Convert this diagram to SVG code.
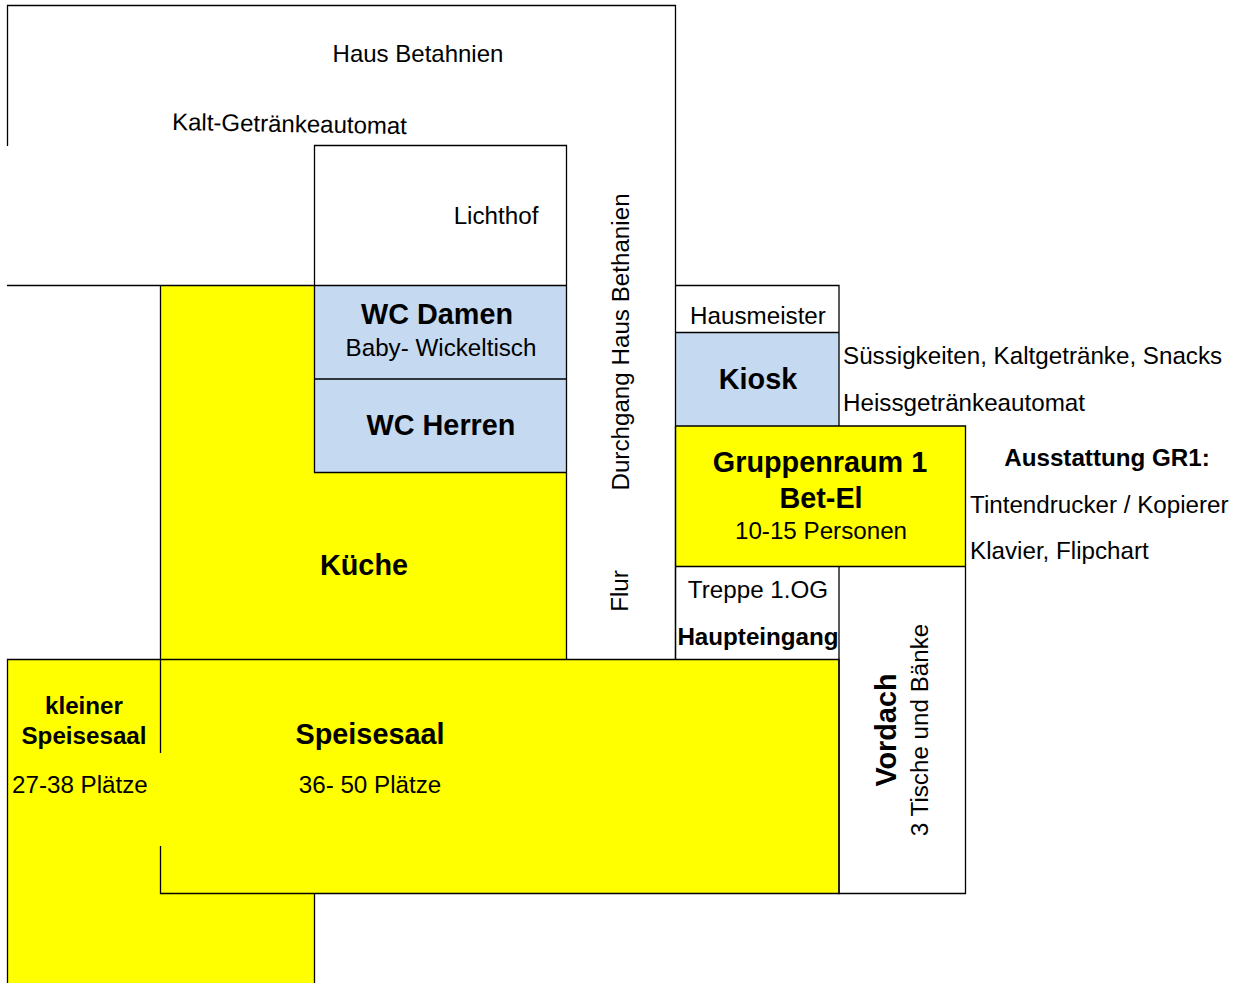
<svg xmlns="http://www.w3.org/2000/svg" width="1239" height="983" viewBox="0 0 1239 983">
<style>
text{font-family:"Liberation Sans",Arial,sans-serif;fill:#000;font-size:24.2px}
.b{font-weight:bold}
.h{font-weight:bold;font-size:28.8px}
.c{text-anchor:middle}
.l{fill:none;stroke:#000;stroke-width:1.3}
.y{fill:#ffff00}
.w{fill:#c5d9f1}
</style>
<rect width="1239" height="983" fill="#fff"/>
<path class="y" d="M160.500 285.500H566.500V659.500H838.500V893.500H314.500V983H7.500V659.500H160.500Z"/>
<rect class="y" x="675.500" y="426" width="290" height="140.500"/>
<rect class="w" x="314.500" y="285.500" width="252" height="187"/>
<rect class="w" x="675.500" y="332.500" width="163.500" height="93.500"/>
<path class="l" d="M7.500 146V5.500H675.500V426M7 285.500H566.500M314.500 285.500V145.500H566.500V659.500M675.500 659.500V285.500H839V426M675.500 332.500H839M314.500 379H566.500M314.500 285.500V472.500H566.500M160.500 285.500V659.500"/>
<path class="l" d="M675.500 426H965.500V893.500H839V566M675.500 566.500H965.500M675.500 426V659.500"/>
<path class="l" d="M7.500 983V659.500H839V893.500H160.500V846M160.500 659.500V753M314.500 893.500V983"/>
<text class="c" x="418" y="62" style="font-size:24px">Haus Betahnien</text>
<text x="172" y="130" transform="rotate(1 172 130)" style="font-size:24px">Kalt-Getränkeautomat</text>
<text class="c" x="496" y="224">Lichthof</text>
<text class="c h" x="437" y="324">WC Damen</text>
<text class="c" x="441" y="356">Baby- Wickeltisch</text>
<text class="c h" x="441" y="435">WC Herren</text>
<text class="c h" x="364" y="575">Küche</text>
<text class="c" transform="translate(629 342) rotate(-90)">Durchgang Haus Bethanien</text>
<text class="c" transform="translate(628 591) rotate(-90)">Flur</text>
<text class="c" x="758" y="324">Hausmeister</text>
<text class="c h" x="758" y="389">Kiosk</text>
<text x="843" y="364">Süssigkeiten, Kaltgetränke, Snacks</text>
<text x="843" y="411">Heissgetränkeautomat</text>
<text class="c h" x="820" y="472">Gruppenraum 1</text>
<text class="c h" x="821" y="508">Bet-El</text>
<text class="c" x="821" y="539">10-15 Personen</text>
<text class="c b" x="1107" y="466">Ausstattung GR1:</text>
<text x="970" y="513">Tintendrucker / Kopierer</text>
<text x="970" y="559">Klavier, Flipchart</text>
<text class="c" x="758" y="598">Treppe 1.OG</text>
<text class="c b" x="758" y="645">Haupteingang</text>
<text class="c h" transform="translate(896 730) rotate(-90)">Vordach</text>
<text class="c" transform="translate(928 730) rotate(-90)">3 Tische und Bänke</text>
<text class="c b" x="84" y="714">kleiner</text>
<text class="c b" x="84" y="744">Speisesaal</text>
<text x="12" y="793">27-38 Plätze</text>
<text class="c h" x="370" y="744">Speisesaal</text>
<text class="c" x="370" y="793">36- 50 Plätze</text>
</svg>
